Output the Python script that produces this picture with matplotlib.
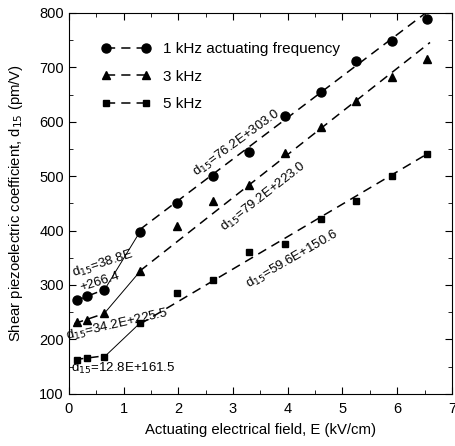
import numpy as np
import matplotlib
matplotlib.use('Agg')
import matplotlib.pyplot as plt
from matplotlib.ticker import MultipleLocator

plt.rcParams['font.family'] = ['Liberation Sans', 'DejaVu Sans']

# measured points (E in kV/cm, d15 in pm/V)
field = [0.15, 0.33, 0.65, 1.3, 1.97, 2.63, 3.3, 3.95, 4.6, 5.25, 5.9, 6.55]
d15_1khz = [272, 280, 291, 398, 451, 500, 545, 610, 655, 712, 748, 789]
d15_3khz = [232, 235, 248, 325, 408, 455, 483, 543, 590, 638, 683, 716]
d15_5khz = [162, 165, 168, 230, 285, 309, 360, 375, 422, 455, 500, 540]

# printed fit coefficients (slope, intercept): low field / high field
fit_low = {'1': (38.8, 266.4), '3': (34.2, 225.5), '5': (12.8, 161.5)}
fit_high = {'1': (76.2, 303.0), '3': (79.2, 223.0), '5': (59.6, 150.6)}
low_range = (0.1, 0.65)
high_range = (1.3, 6.6)

fig = plt.figure(figsize=(4.56, 4.46), dpi=100)
ax = fig.add_axes([0.151, 0.117, 0.840, 0.854])

series = [('1', d15_1khz, 'o', 6.5, '1 kHz actuating frequency'),
          ('3', d15_3khz, '^', 5.5, '3 kHz'),
          ('5', d15_5khz, 's', 5, '5 kHz')]

dash = (0, (6, 4))
for key, ys, mk, ms, lab in series:
    ax.plot(field, ys, linestyle='none', marker=mk, ms=ms, color='black', zorder=3)
    a, b = fit_low[key]
    e = np.array(low_range)
    ax.plot(e, a * e + b, color='black', lw=1.1, linestyle=dash)
    a, b = fit_high[key]
    e = np.array(high_range)
    ax.plot(e, a * e + b, color='black', lw=1.1, linestyle=dash)
    # thin link between the two regimes
    ax.plot(field[2:4], ys[2:4], color='black', lw=0.7)
    ax.plot([], [], color='black', lw=1.1, linestyle=dash, marker=mk, ms=ms, label=lab)

ax.legend(loc='upper left', frameon=False, numpoints=2, handlelength=3.2,
          labelspacing=0.9, fontsize=11, bbox_to_anchor=(0.05, 0.96))

txt = dict(fontsize=9.5, color='black', ha='center', va='center')
ax.text(3.06, 560, 'd$_{15}$=76.2E+303.0', rotation=36, **txt)
ax.text(3.55, 462, 'd$_{15}$=79.2E+223.0', rotation=38, **txt)
ax.text(0.62, 338, 'd$_{15}$=38.8E', rotation=18, **txt)
ax.text(0.57, 306, '+266.4', rotation=18, **txt)
ax.text(0.88, 226, 'd$_{15}$=34.2E+225.5', rotation=13, **txt)
ax.text(1.0, 146, 'd$_{15}$=12.8E+161.5', rotation=0, **txt)
ax.text(4.08, 347, 'd$_{15}$=59.6E+150.6', rotation=30, **txt)

ax.set_xlim(0, 7)
ax.set_ylim(100, 800)
ax.xaxis.set_major_locator(MultipleLocator(1))
ax.xaxis.set_minor_locator(MultipleLocator(0.5))
ax.yaxis.set_major_locator(MultipleLocator(100))
ax.yaxis.set_minor_locator(MultipleLocator(50))
ax.tick_params(which='both', direction='in', top=True, right=True, labelsize=10.5)
ax.tick_params(which='major', length=5)
ax.tick_params(which='minor', length=3)
ax.tick_params(axis='x', pad=6)
ax.set_xlabel('Actuating electrical field, E (kV/cm)', fontsize=10.7, labelpad=5)
ax.set_ylabel('Shear piezoelectric coefficient, d$_{15}$ (pm/V)', fontsize=10.7, labelpad=10)

fig.savefig('out.png', dpi=100)
